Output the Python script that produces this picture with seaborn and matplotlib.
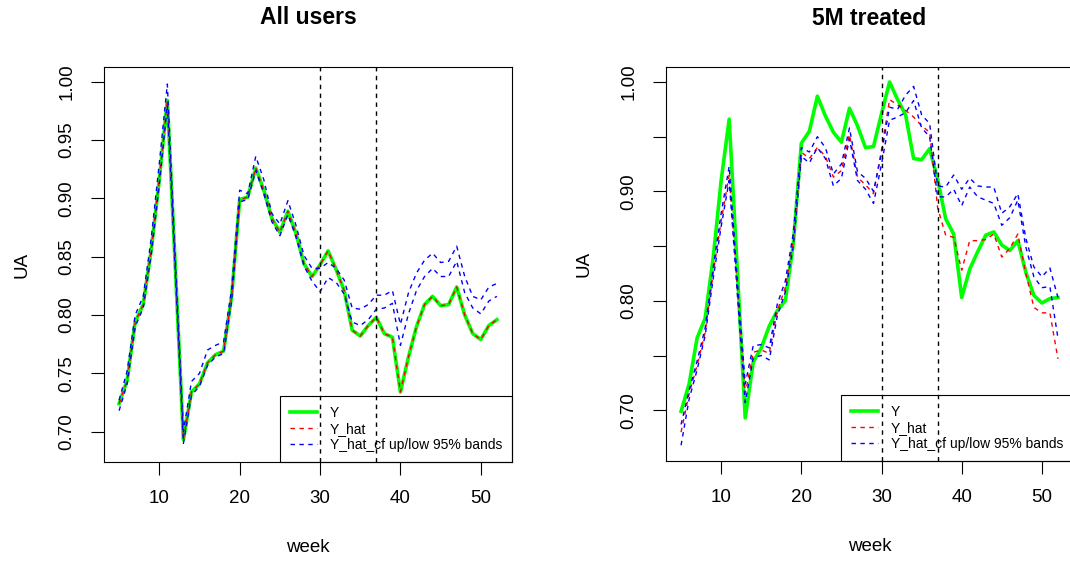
import matplotlib
matplotlib.use("Agg")
import matplotlib.pyplot as plt
from matplotlib.lines import Line2D
import seaborn as sns

plt.rcParams["font.family"] = ["Liberation Sans", "DejaVu Sans"]

weeks = list(range(5, 53))
intervention_weeks = [30, 37]

# ---- All users ----
y_all = [0.724, 0.744, 0.794, 0.809, 0.856, 0.916, 0.984, 0.840, 0.693, 0.734,
         0.741, 0.759, 0.766, 0.769, 0.816, 0.899, 0.901, 0.926, 0.907, 0.883,
         0.871, 0.889, 0.870, 0.844, 0.833, 0.843, 0.855, 0.839, 0.821, 0.787,
         0.782, 0.791, 0.798, 0.784, 0.781, 0.734, 0.764, 0.790, 0.809, 0.816,
         0.808, 0.809, 0.824, 0.800, 0.784, 0.779, 0.791, 0.796]
y_hat_all = [0.724, 0.744, 0.794, 0.809, 0.856, 0.916, 0.984, 0.840, 0.693, 0.734,
             0.741, 0.759, 0.766, 0.769, 0.816, 0.899, 0.901, 0.926, 0.907, 0.883,
             0.871, 0.889, 0.870, 0.844, 0.833, 0.843, 0.855, 0.839, 0.821, 0.787,
             0.782, 0.791, 0.798, 0.784, 0.781, 0.734, 0.764, 0.790, 0.809, 0.816,
             0.808, 0.809, 0.824, 0.800, 0.784, 0.779, 0.791, 0.796]
cf_up_all = [0.727, 0.752, 0.800, 0.816, 0.866, 0.930, 0.998, 0.846, 0.700, 0.743,
             0.750, 0.770, 0.774, 0.777, 0.822, 0.907, 0.904, 0.936, 0.916, 0.887,
             0.878, 0.898, 0.877, 0.851, 0.840, 0.840, 0.845, 0.840, 0.830, 0.806,
             0.805, 0.809, 0.817, 0.817, 0.821, 0.792, 0.819, 0.836, 0.847, 0.853,
             0.845, 0.846, 0.859, 0.833, 0.816, 0.813, 0.824, 0.827]
cf_low_all = [0.718, 0.741, 0.790, 0.806, 0.852, 0.912, 0.980, 0.835, 0.690, 0.731,
              0.739, 0.757, 0.764, 0.767, 0.812, 0.897, 0.899, 0.924, 0.904, 0.880,
              0.868, 0.886, 0.867, 0.842, 0.829, 0.820, 0.832, 0.828, 0.818, 0.794,
              0.791, 0.796, 0.805, 0.806, 0.810, 0.774, 0.801, 0.821, 0.833, 0.840,
              0.833, 0.833, 0.846, 0.819, 0.806, 0.801, 0.812, 0.816]

# ---- 5M treated ----
y_5m = [0.699, 0.724, 0.766, 0.784, 0.839, 0.910, 0.966, 0.830, 0.693, 0.744,
        0.757, 0.777, 0.791, 0.800, 0.852, 0.944, 0.955, 0.987, 0.969, 0.954,
        0.945, 0.976, 0.960, 0.940, 0.941, 0.971, 1.000, 0.984, 0.970, 0.930,
        0.929, 0.939, 0.911, 0.875, 0.861, 0.803, 0.829, 0.845, 0.860, 0.863,
        0.851, 0.846, 0.855, 0.826, 0.805, 0.798, 0.802, 0.803]
y_hat_5m = [0.680, 0.715, 0.741, 0.771, 0.825, 0.873, 0.915, 0.814, 0.715, 0.753,
            0.755, 0.752, 0.791, 0.812, 0.855, 0.936, 0.930, 0.940, 0.932, 0.913,
            0.919, 0.952, 0.913, 0.906, 0.898, 0.938, 0.984, 0.979, 0.974, 0.968,
            0.960, 0.954, 0.885, 0.860, 0.858, 0.828, 0.855, 0.855, 0.856, 0.861,
            0.840, 0.848, 0.861, 0.825, 0.794, 0.789, 0.789, 0.747]
cf_up_5m = [0.687, 0.718, 0.745, 0.775, 0.830, 0.880, 0.923, 0.820, 0.724, 0.759,
            0.760, 0.757, 0.797, 0.818, 0.862, 0.940, 0.936, 0.950, 0.940, 0.916,
            0.925, 0.958, 0.918, 0.912, 0.900, 0.935, 0.977, 0.975, 0.988, 0.996,
            0.970, 0.962, 0.905, 0.904, 0.915, 0.902, 0.912, 0.905, 0.904, 0.904,
            0.880, 0.886, 0.898, 0.857, 0.831, 0.822, 0.830, 0.803]
cf_low_5m = [0.668, 0.710, 0.737, 0.768, 0.820, 0.868, 0.910, 0.808, 0.707, 0.748,
             0.750, 0.746, 0.786, 0.808, 0.850, 0.932, 0.926, 0.940, 0.930, 0.905,
             0.912, 0.948, 0.910, 0.902, 0.889, 0.925, 0.965, 0.968, 0.972, 0.983,
             0.958, 0.950, 0.895, 0.895, 0.902, 0.887, 0.904, 0.895, 0.892, 0.889,
             0.869, 0.876, 0.892, 0.849, 0.822, 0.812, 0.813, 0.766]

titles = ["All users", "5M treated"]
legend_labels = ["Y", "Y_hat", "Y_hat_cf up/low 95% bands"]
x_ticks = [10, 20, 30, 40, 50]
y_ticks = [0.70, 0.75, 0.80, 0.85, 0.90, 0.95, 1.00]

GREEN, RED, BLUE = "#00FF00", "#FF0000", "#0000FF"
DASH = (0, (3.2, 3.2))

fig = plt.figure(figsize=(10.70, 5.61), dpi=100)
ax_left = fig.add_axes([104 / 1070, 1 - 462 / 561, 408 / 1070, 395 / 561])
ax_right = fig.add_axes([666 / 1070, 1 - 461 / 561, 407 / 1070, 394 / 561])

panels = [
    (ax_left, y_all, y_hat_all, cf_up_all, cf_low_all, (0.674, 1.0126),
     ["0.70", "0.75", "0.80", "0.85", "0.90", "0.95", "1.00"]),
    (ax_right, y_5m, y_hat_5m, cf_up_5m, cf_low_5m, (0.6536, 1.0137),
     ["0.70", "", "0.80", "", "0.90", "", "1.00"]),
]

for i, (ax, y, yh, up, lo, ylim, ylabels) in enumerate(panels):
    sns.lineplot(x=weeks, y=y, ax=ax, color=GREEN, linewidth=2.6)
    sns.lineplot(x=weeks, y=yh, ax=ax, color=RED, linewidth=1.0, linestyle=DASH)
    sns.lineplot(x=weeks, y=up, ax=ax, color=BLUE, linewidth=1.0, linestyle=DASH)
    sns.lineplot(x=weeks, y=lo, ax=ax, color=BLUE, linewidth=1.0, linestyle=DASH)
    for wk in intervention_weeks:
        ax.axvline(wk, color="black", linewidth=1.0, linestyle=DASH)

    ax.set_xlim(3.12, 53.88)
    ax.set_ylim(*ylim)
    ax.set_xticks(x_ticks)
    ax.set_xticklabels([str(t) for t in x_ticks])
    ax.set_yticks(y_ticks)
    ax.set_yticklabels(ylabels)
    ax.tick_params(axis="both", direction="out", length=9.5, width=0.8,
                   pad=11, labelsize=13.5, colors="black")
    ax.tick_params(axis="y", labelrotation=90)
    for lab in ax.get_yticklabels():
        lab.set_va("center")
    for sp in ax.spines.values():
        sp.set_visible(True)
        sp.set_color("black")
        sp.set_linewidth(0.8)
    ax.set_facecolor("white")

    ax.set_xlabel("week", fontsize=13.5)
    ax.set_ylabel("UA", fontsize=13.5)
    ax.xaxis.set_label_coords(0.5, -(548 - 462) / 395)
    ax.xaxis.label.set_va("center")
    ax.yaxis.set_label_coords(-(82.5) / 408, 0.5)
    ax.yaxis.label.set_va("center")

    ax.set_title(titles[i], fontsize=16.5, fontweight="bold", y=(462 - 18) / 395,
                 va="center", pad=0)

    handles = [
        Line2D([], [], color=GREEN, linewidth=2.6),
        Line2D([], [], color=RED, linewidth=1.0, linestyle=DASH),
        Line2D([], [], color=BLUE, linewidth=1.0, linestyle=DASH),
    ]
    leg = ax.legend(handles, legend_labels, loc="lower right", bbox_to_anchor=(1, 0),
                    borderaxespad=0, fontsize=10, frameon=True, fancybox=False,
                    edgecolor="black", facecolor="none", framealpha=1,
                    borderpad=0.7, labelspacing=0.15, handlelength=1.95,
                    handletextpad=0.95)
    leg.get_frame().set_linewidth(0.8)

fig.savefig("out.png", dpi=100, facecolor="white")
